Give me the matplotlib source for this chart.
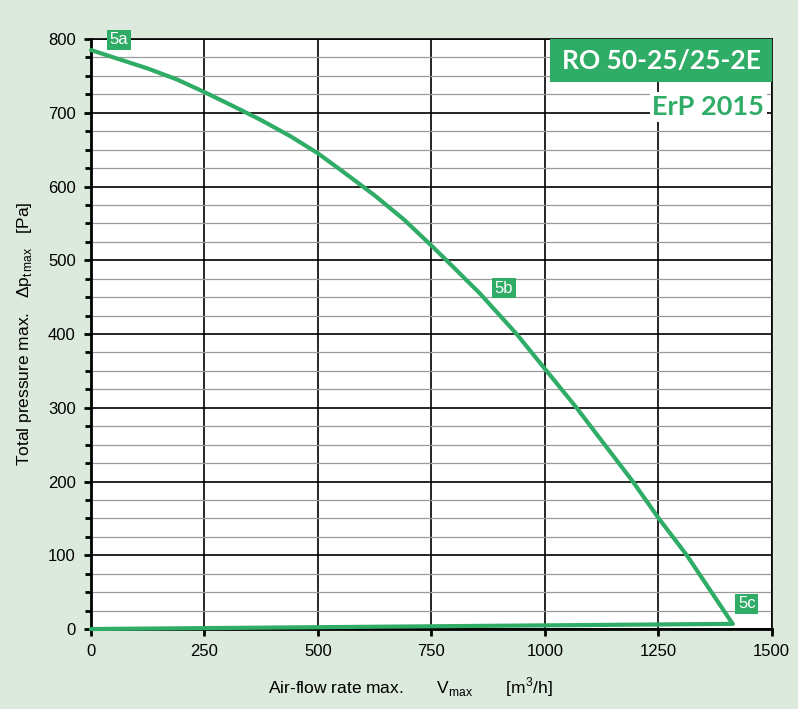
import matplotlib.pyplot as plt
from matplotlib.patches import Rectangle
from matplotlib.ticker import MultipleLocator

plt.rcParams['font.family'] = ['Liberation Sans', 'DejaVu Sans']
plt.rcParams['mathtext.fontset'] = 'custom'
plt.rcParams['mathtext.rm'] = 'Liberation Sans'

# Kennlinie (Luftmenge m3/h, Druck Pa)
volumen = [0, 60, 125, 190, 250, 310, 375, 440, 500, 560, 625, 690, 750, 775, 857, 938,
           1000, 1070, 1194, 1250, 1313, 1414]
druck = [785, 773, 760, 745, 728, 710, 690, 668, 645, 618, 588, 555, 520, 505, 455, 400,
         353, 300, 200, 151, 100, 7]
# Rücklauf an der Basis
volumen_basis = [1414, 0]
druck_basis = [7, 0]

punkte = ['5a', '5b', '5c']
punkte_x = [62, 910, 1445]
punkte_y = [799, 462, 34]

gruen = '#2fac66'
hintergrund = '#dbeadc'

fig = plt.figure(figsize=(7.98, 7.09), dpi=100, facecolor=hintergrund)
ax = fig.add_axes([0.114, 0.1128, 0.853, 0.8322])
ax.set_facecolor('white')

ax.set_xlim(0, 1500)
ax.set_ylim(0, 800)
ax.xaxis.set_major_locator(MultipleLocator(250))
ax.yaxis.set_major_locator(MultipleLocator(100))
ax.yaxis.set_minor_locator(MultipleLocator(25))

ax.grid(which='major', color='black', linewidth=1.2)
ax.grid(which='minor', axis='y', color='#9a9a9a', linewidth=0.9)
ax.set_axisbelow(True)

for s in ['left', 'bottom']:
    ax.spines[s].set_linewidth(2)
for s in ['top', 'right']:
    ax.spines[s].set_linewidth(1.2)

ax.tick_params(which='major', length=5, width=2, labelsize=12, pad=6)
ax.tick_params(which='minor', length=4, width=2)

ax.plot(volumen, druck, color=gruen, linewidth=3, solid_capstyle='round', solid_joinstyle='round',
        clip_on=False, zorder=3)
ax.plot(volumen_basis, druck_basis, color=gruen, linewidth=3, solid_capstyle='round', clip_on=False, zorder=3)

for p, px, py in zip(punkte, punkte_x, punkte_y):
    ax.text(px, py, p, color='white', fontsize=12, ha='center', va='center', zorder=5,
            bbox=dict(boxstyle='square,pad=0.15', facecolor=gruen, edgecolor='none'), clip_on=False)

# Typenschild oben rechts
ax.add_patch(Rectangle((0.675, 0.927), 0.325, 0.073, transform=ax.transAxes,
                       facecolor=gruen, edgecolor='none', zorder=6, clip_on=False))
ax.text(0.8375, 0.9635, 'RO 50-25/25-2E', transform=ax.transAxes, color='white', fontsize=19,
        fontweight='bold', family='Lato', ha='center', va='center', zorder=7)
ax.text(0.989, 0.885, 'ErP 2015', transform=ax.transAxes, color=gruen, fontsize=19.5,
        fontweight='bold', family='Lato', ha='right', va='center', zorder=6,
        bbox=dict(boxstyle='square,pad=0.1', facecolor='white', edgecolor='none'))

ax.text(0.47, -0.098, r'Air-flow rate max.       V$_{\mathrm{max}}$       [m$^{3}$/h]', transform=ax.transAxes,
        fontsize=12.5, ha='center', va='center')
ax.set_ylabel(r'Total pressure max.   $\Delta$p$_{\mathrm{t\,max}}$   [Pa]', fontsize=12.5, labelpad=10)

fig.savefig('out.png', dpi=100, facecolor=hintergrund)
